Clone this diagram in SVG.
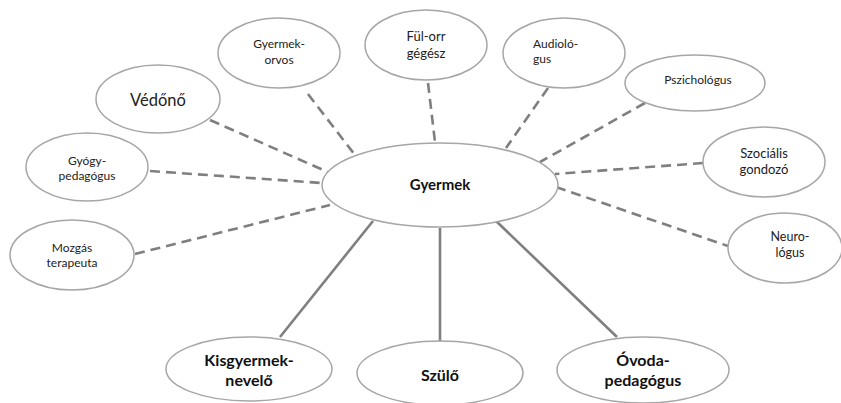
<svg xmlns="http://www.w3.org/2000/svg" width="841" height="403" viewBox="0 0 841 403">
<style>
.n ellipse{fill:#fff;stroke:#a6a6a6;stroke-width:1.5}
.t{font-family:Lato,"Open Sans",sans-serif;font-size:12px;fill:#222;text-anchor:middle}
.b{font-family:Lato,"Open Sans",sans-serif;font-size:16px;font-weight:bold;fill:#111;text-anchor:middle}
.d{stroke:#7f7f7f;stroke-width:2.6;stroke-dasharray:10 6;fill:none}
.s{stroke:#7f7f7f;stroke-width:2.6;fill:none}
</style>
<rect width="841" height="403" fill="#fff"/>
<g id="connectors">
<line class="d" x1="308" y1="94" x2="355" y2="155"/>
<line class="d" x1="210" y1="120" x2="330" y2="173"/>
<line class="d" x1="150" y1="171" x2="322" y2="183"/>
<line class="d" x1="428" y1="83" x2="435" y2="142"/>
<line class="d" x1="548" y1="88" x2="506" y2="148"/>
<line class="d" x1="645" y1="103" x2="540" y2="162"/>
<line class="d" x1="703" y1="163" x2="555" y2="174"/>
<line class="d" x1="556" y1="187" x2="728" y2="246"/>
<line class="d" x1="135" y1="254" x2="330" y2="205"/>
<line class="s" x1="373" y1="221" x2="280" y2="337"/>
<line class="s" x1="440" y1="228" x2="440" y2="343"/>
<line class="s" x1="496" y1="221" x2="617" y2="337"/>
</g>
<g id="gyermek" class="n"><ellipse cx="440" cy="185" rx="118" ry="42"/><text class="b" x="440" y="190" style="font-size:15px">Gyermek</text></g>
<g id="gyermekorvos" class="n"><ellipse cx="279" cy="53" rx="61" ry="35"/><text class="t" x="279" y="48">Gyermek-</text><text class="t" x="279" y="64">orvos</text></g>
<g id="vedono" class="n"><ellipse cx="158" cy="99" rx="62" ry="34"/><text class="t" x="158" y="106" style="font-size:16.5px">Védőnő</text></g>
<g id="gyogypedagogus" class="n"><ellipse cx="87" cy="167" rx="61" ry="34"/><text class="t" x="87" y="165">Gyógy-</text><text class="t" x="87" y="180">pedagógus</text></g>
<g id="fulorrgegesz" class="n"><ellipse cx="426" cy="45" rx="61" ry="35"/><text class="t" x="426" y="41" style="font-size:13px">Fül-orr</text><text class="t" x="426" y="58" style="font-size:13px">gégész</text></g>
<g id="audiologus" class="n"><ellipse cx="564" cy="53" rx="61" ry="35"/><text class="t" x="533" y="48" style="text-anchor:start">Audioló-</text><text class="t" x="533" y="63" style="text-anchor:start">gus</text></g>
<g id="pszichologus" class="n"><ellipse cx="695" cy="83" rx="70" ry="28"/><text class="t" x="698" y="84">Pszichológus</text></g>
<g id="szocialis" class="n"><ellipse cx="764" cy="162" rx="61" ry="35"/><text class="t" x="764" y="158" style="font-size:13px">Szociális</text><text class="t" x="764" y="174" style="font-size:13px">gondozó</text></g>
<g id="neurologus" class="n"><ellipse cx="785" cy="248" rx="57" ry="35"/><text class="t" x="790" y="241" style="font-size:12.5px">Neuro-</text><text class="t" x="790" y="257" style="font-size:12.5px">lógus</text></g>
<g id="mozgas" class="n"><ellipse cx="72" cy="255" rx="62" ry="35"/><text class="t" x="72" y="252">Mozgás</text><text class="t" x="72" y="267">terapeuta</text></g>
<g id="kisgyermeknevelo" class="n"><ellipse cx="249" cy="369" rx="83" ry="32"/><text class="b" x="249" y="366">Kisgyermek-</text><text class="b" x="249" y="386">nevelő</text></g>
<g id="szulo" class="n"><ellipse cx="440" cy="373" rx="83" ry="32"/><text class="b" x="440" y="381">Szülő</text></g>
<g id="ovodapedagogus" class="n"><ellipse cx="643" cy="370" rx="86" ry="33"/><text class="b" x="643" y="366">Óvoda-</text><text class="b" x="643" y="386">pedagógus</text></g>
</svg>
